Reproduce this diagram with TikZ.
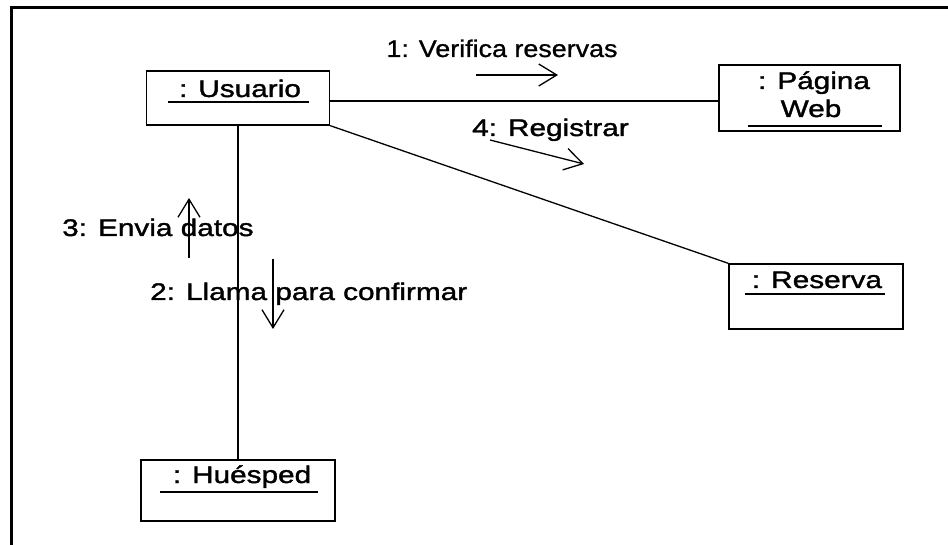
\documentclass[tikz,border=0pt]{standalone}
\usepackage{fontspec}
\setmainfont{Liberation Sans}[FakeStretch=1.24,FakeBold=1.5]
\newfontfamily\narrowsans{Liberation Sans}[FakeStretch=1.12,FakeBold=1]
\usetikzlibrary{arrows.meta}
\begin{document}
\begin{tikzpicture}[x=1pt,y=-1pt,
  objbox/.style={draw, line width=1.3pt, inner sep=0pt, rectangle},
  conn/.style={line width=1.3pt},
  frameline/.style={line width=3pt},
  lbl/.style={font=\fontsize{24}{28}\selectfont, inner sep=0pt, anchor=base},
  uline/.style={line width=1.3pt},
  msg/.style={line width=1.3pt, -{Straight Barb[length=18pt,width=22pt,line width=1.3pt]}},
]
\useasboundingbox (0,0) rectangle (948,545);
\draw[frameline] (11,545) -- (11,8) -- (948,8);

% object boxes
\node[objbox, minimum width=183pt, minimum height=54pt] (usuario) at (238,98) {};
\node[objbox, minimum width=181pt, minimum height=66pt] (pagina) at (809.5,98) {};
\node[objbox, minimum width=174pt, minimum height=65pt] (reserva) at (816,296.5) {};
\node[objbox, minimum width=194pt, minimum height=61pt] (huesped) at (238,490.5) {};

% object names (underlined)
\node[lbl] (tusuario) at (240,97) {: Usuario};
\draw[uline] ([shift={(-11,5)}]tusuario.base west) -- ([shift={(8,5)}]tusuario.base east);
\node[lbl] (tpagina) at (814,89) {: Página};
\node[lbl] (tweb) at (811,117) {Web};
\draw[uline] ([shift={(-32,9)}]tweb.base west) -- ([shift={(40,9)}]tweb.base east);
\node[lbl] (treserva) at (817,288) {: Reserva};
\draw[uline] ([shift={(-7,6)}]treserva.base west) -- ([shift={(3,6)}]treserva.base east);
\node[lbl] (thuesped) at (242,483) {: Huésped};
\draw[uline] ([shift={(-13,9)}]thuesped.base west) -- ([shift={(7,9)}]thuesped.base east);

% links
\draw[conn] ([yshift=-3pt]usuario.east) -- ([yshift=-3pt]usuario.east -| pagina.west);
\draw[conn] (usuario.south east) -- (reserva.north west);
\draw[conn] (usuario.south) -- (huesped.north);

% messages
\node[lbl, font=\narrowsans\fontsize{24}{28}\selectfont] (l1) at (502,57) {1: Verifica reservas};
\coordinate (m1a) at (476,75);
\coordinate (m1b) at (558,75);
\draw[msg] (m1a) -- (m1b);

\node[lbl, anchor=base west] (l4) at (472,136) {4: Registrar};
\coordinate (m4a) at (490,140);
\coordinate (m4b) at (584,164);
\draw[msg] (m4a) -- (m4b);

\node[lbl, anchor=base west] (l3) at (62,236) {3: Envia datos};
\coordinate (m3a) at (189,258);
\coordinate (m3b) at (189,198);
\draw[msg] (m3a) -- (m3b);

\node[lbl, anchor=base west] (l2) at (150,300) {2: Llama para confirmar};
\coordinate (m2a) at (273,259);
\coordinate (m2b) at (273,329);
\draw[msg] (m2a) -- (m2b);
\end{tikzpicture}
\end{document}
